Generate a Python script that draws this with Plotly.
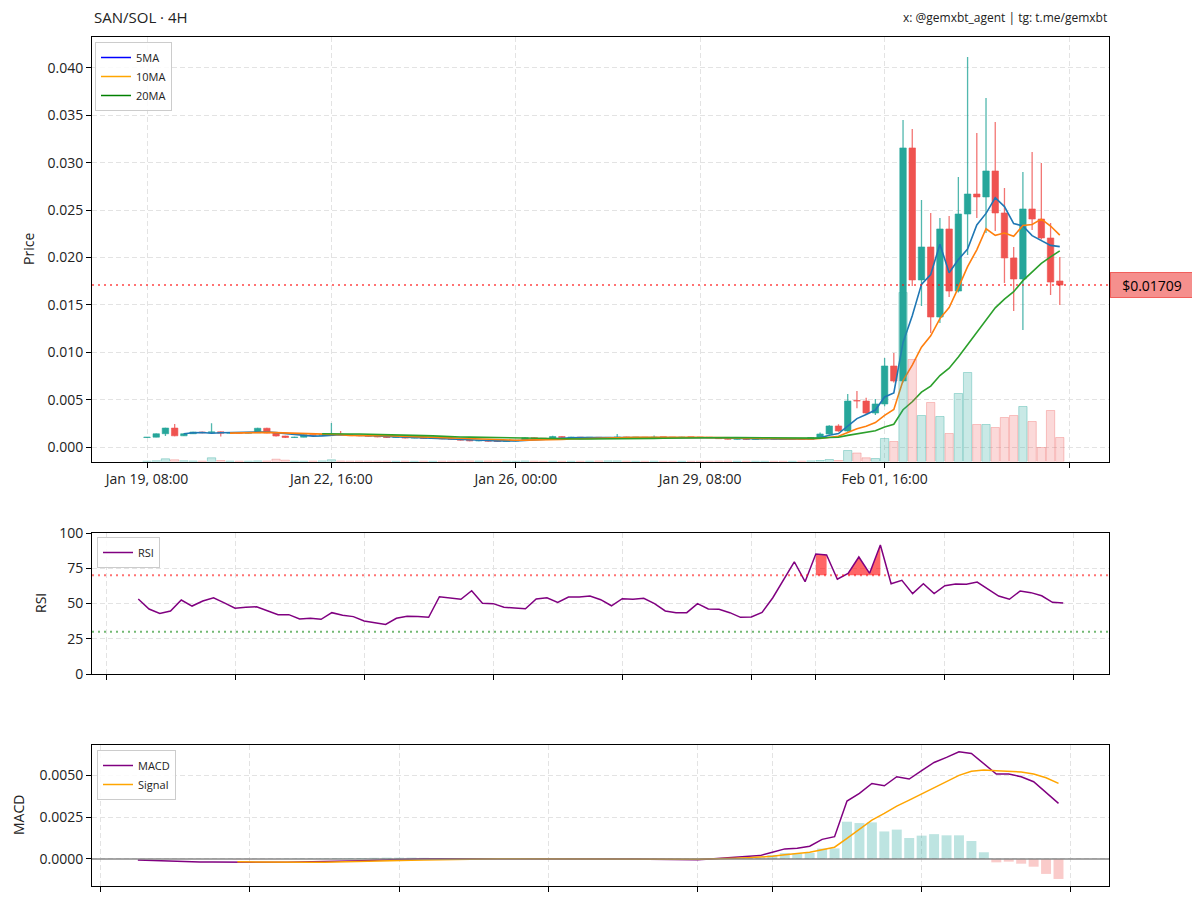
import numpy as np
import pandas as pd
import plotly.graph_objects as go

# ---------------- data ----------------
dates = pd.date_range("2025-01-19 08:00", periods=100, freq="4h")

opens = [0.00100, 0.00104, 0.00140, 0.00200, 0.00118, 0.00140, 0.00158, 0.00150, 0.00160, 0.00146,
         0.00152, 0.00146, 0.00150, 0.00198, 0.00148, 0.00116, 0.00100, 0.00104, 0.00128, 0.00124,
         0.00130, 0.00134, 0.00128, 0.00120, 0.00118, 0.00114, 0.00106, 0.00100, 0.00104, 0.00094,
         0.00098, 0.00090, 0.00092, 0.00086, 0.00082, 0.00072, 0.00064, 0.00068, 0.00060, 0.00058,
         0.00064, 0.00072, 0.00098, 0.00090, 0.00088, 0.00110, 0.00100, 0.00104, 0.00098, 0.00102,
         0.00096, 0.00098, 0.00106, 0.00100, 0.00102, 0.00098, 0.00104, 0.00102, 0.00100, 0.00104,
         0.00102, 0.00100, 0.00098, 0.00088, 0.00082, 0.00086, 0.00080, 0.00084, 0.00088, 0.00082,
         0.00080, 0.00084, 0.00080, 0.00100, 0.00137, 0.00222, 0.00169, 0.00490, 0.00485, 0.00359,
         0.00454, 0.00855, 0.00697, 0.03156, 0.01763, 0.02111, 0.01372, 0.02301, 0.01646, 0.02459,
         0.02670, 0.02639, 0.02913, 0.02470, 0.01995, 0.01773, 0.02512, 0.02406, 0.02206, 0.01752]

highs = [0.00106, 0.00142, 0.00204, 0.00243, 0.00144, 0.00162, 0.00162, 0.00250, 0.00164, 0.00156,
         0.00155, 0.00154, 0.00202, 0.00202, 0.00150, 0.00118, 0.00108, 0.00132, 0.00130, 0.00134,
         0.00252, 0.00170, 0.00130, 0.00124, 0.00122, 0.00116, 0.00108, 0.00108, 0.00106, 0.00102,
         0.00100, 0.00096, 0.00094, 0.00088, 0.00084, 0.00074, 0.00072, 0.00070, 0.00064, 0.00068,
         0.00076, 0.00104, 0.00100, 0.00094, 0.00118, 0.00114, 0.00108, 0.00106, 0.00106, 0.00104,
         0.00102, 0.00136, 0.00108, 0.00106, 0.00104, 0.00122, 0.00106, 0.00104, 0.00108, 0.00106,
         0.00104, 0.00102, 0.00100, 0.00090, 0.00090, 0.00088, 0.00088, 0.00092, 0.00090, 0.00086,
         0.00088, 0.00086, 0.00104, 0.00152, 0.00230, 0.00240, 0.00559, 0.00590, 0.00520, 0.00506,
         0.00939, 0.00992, 0.03451, 0.03356, 0.02607, 0.02470, 0.02417, 0.02438, 0.02850, 0.04116,
         0.03314, 0.03683, 0.03430, 0.02733, 0.02111, 0.02902, 0.03113, 0.02997, 0.02364, 0.02005]

lows = [0.00098, 0.00102, 0.00116, 0.00114, 0.00115, 0.00136, 0.00146, 0.00148, 0.00112, 0.00143,
        0.00142, 0.00144, 0.00148, 0.00144, 0.00112, 0.00096, 0.00098, 0.00102, 0.00120, 0.00122,
        0.00128, 0.00126, 0.00116, 0.00114, 0.00110, 0.00102, 0.00096, 0.00098, 0.00090, 0.00092,
        0.00086, 0.00088, 0.00082, 0.00078, 0.00068, 0.00060, 0.00062, 0.00056, 0.00054, 0.00056,
        0.00062, 0.00070, 0.00086, 0.00084, 0.00086, 0.00096, 0.00098, 0.00094, 0.00096, 0.00092,
        0.00094, 0.00096, 0.00098, 0.00098, 0.00096, 0.00096, 0.00100, 0.00098, 0.00098, 0.00100,
        0.00098, 0.00096, 0.00086, 0.00078, 0.00080, 0.00076, 0.00078, 0.00082, 0.00078, 0.00076,
        0.00078, 0.00076, 0.00078, 0.00098, 0.00132, 0.00160, 0.00160, 0.00410, 0.00340, 0.00338,
        0.00430, 0.00680, 0.00680, 0.01700, 0.01488, 0.01203, 0.01309, 0.01583, 0.01630, 0.02026,
        0.02417, 0.02259, 0.02280, 0.01731, 0.01435, 0.01235, 0.02290, 0.02190, 0.01604, 0.01499]

closes = [0.00104, 0.00140, 0.00200, 0.00118, 0.00140, 0.00158, 0.00150, 0.00160, 0.00146, 0.00152,
          0.00146, 0.00150, 0.00198, 0.00148, 0.00116, 0.00100, 0.00104, 0.00128, 0.00124, 0.00130,
          0.00134, 0.00128, 0.00120, 0.00118, 0.00114, 0.00106, 0.00100, 0.00104, 0.00094, 0.00098,
          0.00090, 0.00092, 0.00086, 0.00082, 0.00072, 0.00064, 0.00068, 0.00060, 0.00058, 0.00064,
          0.00072, 0.00098, 0.00090, 0.00088, 0.00110, 0.00100, 0.00104, 0.00098, 0.00102, 0.00096,
          0.00098, 0.00106, 0.00100, 0.00102, 0.00098, 0.00104, 0.00102, 0.00100, 0.00104, 0.00102,
          0.00100, 0.00098, 0.00088, 0.00082, 0.00086, 0.00080, 0.00084, 0.00088, 0.00082, 0.00080,
          0.00084, 0.00080, 0.00100, 0.00137, 0.00222, 0.00169, 0.00485, 0.00485, 0.00359, 0.00454,
          0.00855, 0.00697, 0.03156, 0.01763, 0.02111, 0.01372, 0.02301, 0.01646, 0.02459, 0.02670,
          0.02639, 0.02913, 0.02470, 0.01995, 0.01773, 0.02512, 0.02406, 0.02206, 0.01741, 0.01709]

volumes_k = [0.3, 0.7, 2.7, 1.7, 0.7, 0.5, 0.4, 3.7, 1.0, 0.4,
             0.3, 0.3, 0.6, 0.5, 2.3, 1.3, 0.3, 0.3, 0.4, 0.6,
             1.7, 0.5, 0.3, 0.4, 0.3, 0.3, 0.3, 0.2, 0.3, 0.2,
             0.3, 0.2, 0.3, 0.3, 0.4, 0.5, 0.4, 0.4, 0.3, 0.3,
             0.2, 0.5, 0.3, 0.2, 0.3, 0.2, 0.2, 0.2, 0.3, 0.5,
             0.6, 0.6, 0.3, 0.2, 0.2, 0.3, 0.2, 0.2, 0.2, 0.2,
             0.2, 0.2, 0.3, 0.3, 0.2, 0.2, 0.2, 0.2, 0.2, 0.2,
             0.2, 0.3, 0.6, 1.0, 2.0, 1.0, 11.0, 8.5, 3.7, 3.0,
             23.0, 20.0, 169.0, 102.0, 46.0, 59.0, 45.0, 28.0, 68.0, 89.0,
             37.0, 37.0, 34.0, 44.0, 46.0, 55.0, 40.0, 14.0, 51.0, 24.0]

# RSI starts at candle 13 (Jan 21 12:00)
rsi_values = [53.2, 46.1, 43.0, 44.7, 52.5, 48.2, 51.8, 54.1, 50.4, 46.6,
              47.3, 47.7, 44.9, 42.1, 42.1, 39.0, 39.5, 38.8, 43.5, 41.6,
              40.7, 37.6, 36.4, 35.2, 39.5, 40.9, 40.7, 40.2, 54.8, 54.1,
              53.0, 59.1, 50.1, 49.9, 47.3, 46.8, 46.3, 53.2, 54.1, 50.8,
              54.6, 54.6, 55.3, 52.7, 48.4, 53.4, 53.0, 53.7, 49.9, 44.7,
              43.5, 43.5, 49.9, 46.1, 45.9, 43.5, 40.2, 40.4, 43.7, 54.1,
              67.2, 79.6, 65.5, 85.1, 84.4, 67.2, 71.4, 83.0, 71.4, 91.5,
              64.0, 66.4, 57.0, 64.0, 57.0, 62.6, 63.8, 63.6, 65.2, 60.3,
              55.3, 53.0, 58.9, 57.7, 55.5, 50.8, 50.4]

# MACD starts at candle 25 (Jan 23 12:00)
macd_values = [-0.00006, -0.00009, -0.00012, -0.00014, -0.00016, -0.00018, -0.00018, -0.00019, -0.00019, -0.00020,
               -0.00020, -0.00020, -0.00019, -0.00018, -0.00017, -0.00016, -0.00014, -0.00012, -0.00010, -0.00007,
               -0.00004, -0.00002, 0.00000, 0.00001, 0.00002, 0.00002, 0.00003, 0.00003, 0.00003, 0.00004,
               0.00004, 0.00004, 0.00004, 0.00004, 0.00003, 0.00003, 0.00003, 0.00002, 0.00002, 0.00001,
               0.00000, -0.00001, -0.00002, -0.00003, -0.00004, -0.00004, 0.00000, 0.00006, 0.00012, 0.00016,
               0.00020, 0.00040, 0.00060, 0.00064, 0.00076, 0.00117, 0.00133, 0.00345, 0.00391, 0.00450,
               0.00436, 0.00490, 0.00476, 0.00526, 0.00575, 0.00605, 0.00639, 0.00629, 0.00570, 0.00506,
               0.00506, 0.00490, 0.00460, 0.00395, 0.00331]

signal_values = [None] * 8 + [
    -0.00017, -0.00018, -0.00019, -0.00019, -0.00020, -0.00020, -0.00019, -0.00019, -0.00018, -0.00017,
    -0.00016, -0.00014, -0.00012, -0.00010, -0.00008, -0.00006, -0.00004, -0.00003, -0.00002, -0.00001,
    0.00000, 0.00001, 0.00001, 0.00002, 0.00002, 0.00003, 0.00003, 0.00003, 0.00003, 0.00003,
    0.00003, 0.00002, 0.00002, 0.00001, 0.00001, 0.00000, -0.00001, -0.00002, -0.00001, 0.00001,
    0.00004, 0.00007, 0.00010, 0.00016, 0.00025, 0.00032, 0.00040, 0.00055, 0.00070, 0.00123,
    0.00177, 0.00232, 0.00272, 0.00315, 0.00351, 0.00387, 0.00427, 0.00464, 0.00498, 0.00522,
    0.00530, 0.00526, 0.00522, 0.00518, 0.00506, 0.00484, 0.00450]

current_price = 0.01709
x_tick_idx = [0, 20, 40, 60, 80, 100]

# ---------------- derived series ----------------
idx = list(range(len(closes)))
close_s = pd.Series(closes)
ma5 = close_s.rolling(5).mean()
ma10 = close_s.rolling(10).mean()
ma20 = close_s.rolling(20).mean()
rsi_dates = dates[len(dates) - len(rsi_values):]
macd_dates = dates[len(dates) - len(macd_values):]
hist = [None if s is None else m - s for m, s in zip(macd_values, signal_values)]
up = [c >= o for o, c in zip(opens, closes)]

# ---------------- geometry (reference pixel coords; page body adds 8px offset) ----------------
W, H = 1200, 903
OFF = 8
L_REF, R_REF, T_REF, B_REF = 92, 1109, 37, 886
PW, PH = R_REF - L_REF, B_REF - T_REF
ML, MT = L_REF - OFF, T_REF - OFF
MR, MB = W - ML - PW, H - MT - PH


def fy(py):
    return (B_REF - py) / PH


def fx(px):
    return (px - L_REF) / PW


GREEN, RED = "#26a69a", "#ef5350"
FONT = "Open Sans"

fig = go.Figure()

# wicks
fig.add_trace(go.Bar(
    x=idx, base=lows, y=[h - l for h, l in zip(highs, lows)], width=0.14,
    marker=dict(color=["rgba(38,166,154,0.8)" if u else "rgba(239,83,80,0.8)" for u in up], line=dict(width=0)),
    showlegend=False, hoverinfo="skip", xaxis="x", yaxis="y"))
# bodies
fig.add_trace(go.Bar(
    x=idx, base=[min(o, c) for o, c in zip(opens, closes)],
    y=[max(abs(c - o), 0.00005) for o, c in zip(opens, closes)], width=0.7,
    marker=dict(color=[GREEN if u else RED for u in up], line=dict(width=0.6, color=[GREEN if u else RED for u in up])),
    showlegend=False, hoverinfo="skip", xaxis="x", yaxis="y"))

for ma, col in [(ma5, "#1f77b4"), (ma10, "#ff7f0e"), (ma20, "#2ca02c")]:
    fig.add_trace(go.Scatter(x=idx, y=ma, mode="lines", line=dict(color=col, width=1.6),
                             showlegend=False, hoverinfo="skip", xaxis="x", yaxis="y"))
for name, col in [("5MA", "blue"), ("10MA", "orange"), ("20MA", "green")]:
    fig.add_trace(go.Scatter(x=[None], y=[None], mode="lines", name=name, line=dict(color=col, width=1.5),
                             xaxis="x", yaxis="y", legend="legend"))

# volume (twin axis, drawn on top)
fig.add_trace(go.Bar(
    x=idx, y=volumes_k, width=0.9,
    marker=dict(color=["rgba(38,166,154,0.25)" if u else "rgba(239,83,80,0.22)" for u in up],
                line=dict(width=1, color=["rgba(38,166,154,0.35)" if u else "rgba(239,83,80,0.3)" for u in up])),
    showlegend=False, hoverinfo="skip", xaxis="x", yaxis="y2"))

# RSI overbought fill (matplotlib where= style: consecutive points only)
run = []
runs = []
for j, v in enumerate(rsi_values):
    if v > 70:
        run.append(j)
    else:
        if len(run) > 1:
            runs.append(run)
        run = []
if len(run) > 1:
    runs.append(run)
for r in runs:
    xs = [rsi_dates[j] for j in r]
    ys = [rsi_values[j] for j in r]
    fig.add_trace(go.Scatter(x=xs + xs[::-1], y=ys + [70] * len(xs), fill="toself",
                             fillcolor="rgba(255,0,0,0.6)", line=dict(width=0), mode="lines",
                             showlegend=False, hoverinfo="skip", xaxis="x2", yaxis="y3"))
fig.add_trace(go.Scatter(x=rsi_dates, y=rsi_values, mode="lines", name="RSI",
                         line=dict(color="#800080", width=1.5), xaxis="x2", yaxis="y3", legend="legend2"))

# MACD
fig.add_trace(go.Bar(
    x=macd_dates, y=hist, width=4 * 3600 * 1000 * 0.8,
    marker=dict(color=["rgba(38,166,154,0.3)" if (h is not None and h >= 0) else "rgba(239,83,80,0.3)" for h in hist],
                line=dict(width=0)),
    showlegend=False, hoverinfo="skip", xaxis="x3", yaxis="y4"))
fig.add_trace(go.Scatter(x=macd_dates, y=macd_values, mode="lines", name="MACD",
                         line=dict(color="#800080", width=1.5), xaxis="x3", yaxis="y4", legend="legend3"))
fig.add_trace(go.Scatter(x=macd_dates, y=signal_values, mode="lines", name="Signal",
                         line=dict(color="#FFA500", width=1.5), xaxis="x3", yaxis="y4", legend="legend3"))

# ---------------- axes ----------------
grid = dict(showgrid=True, gridcolor="#e3e3e3", griddash="5px,3px", gridwidth=1)
frame = dict(showline=True, linecolor="black", linewidth=1, mirror=True, ticks="outside",
             ticklen=5, tickwidth=1, tickcolor="black", zeroline=False,
             tickfont=dict(family=FONT, size=14, color="#222"))

rsi_t0 = pd.Timestamp("2025-01-21 00:00")
rsi_ppd = 64.53
macd_t0 = pd.Timestamp("2025-01-23 00:00")
macd_ppd = 74.65
px0, ppc = 147.0, 9.22

tick_text = [dates[i].strftime("%b %d, %H:%M") if i < len(dates) else "" for i in x_tick_idx]
legend_style = dict(xanchor="left", yanchor="top", bgcolor="rgba(255,255,255,0.85)",
                    bordercolor="#cccccc", borderwidth=1, font=dict(family=FONT, size=11, color="#222"),
                    itemwidth=30)

fig.update_layout(
    width=W, height=H, margin=dict(l=ML, r=MR, t=MT, b=MB),
    paper_bgcolor="white", plot_bgcolor="white", barmode="overlay",
    font=dict(family=FONT, size=13, color="#222"),
    xaxis=dict(domain=[0, 1], anchor="y", range=[(L_REF - px0) / ppc, (R_REF - px0) / ppc],
               tickmode="array", tickvals=x_tick_idx, ticktext=tick_text, **grid, **frame),
    yaxis=dict(domain=[fy(461.5), 1], anchor="x", range=[-0.00153, 0.04327],
               tickmode="array", tickvals=[0, 0.005, 0.01, 0.015, 0.02, 0.025, 0.03, 0.035, 0.04],
               tickformat=".3f", **grid, **frame),
    yaxis2=dict(overlaying="y", anchor="x", range=[0, max(volumes_k) * 424.5 / 169], visible=False),
    xaxis2=dict(domain=[0, 1], anchor="y3", type="date",
                range=[rsi_t0 + pd.Timedelta(days=(L_REF - 106) / rsi_ppd),
                       rsi_t0 + pd.Timedelta(days=(R_REF - 106) / rsi_ppd)],
                tickmode="array",
                tickvals=pd.to_datetime(["2025-01-21", "2025-01-23", "2025-01-25", "2025-01-27", "2025-01-29",
                                         "2025-01-31", "2025-02-01", "2025-02-03", "2025-02-05"]),
                showticklabels=False, **grid, **frame),
    yaxis3=dict(domain=[fy(674), fy(533)], anchor="x2", range=[0, 100], tickmode="array",
                tickvals=[0, 25, 50, 75, 100], **grid, **frame),
    xaxis3=dict(domain=[0, 1], anchor="y4", type="date",
                range=[macd_t0 + pd.Timedelta(days=(L_REF - 100.5) / macd_ppd),
                       macd_t0 + pd.Timedelta(days=(R_REF - 100.5) / macd_ppd)],
                tickmode="array",
                tickvals=pd.to_datetime(["2025-01-23", "2025-01-25", "2025-01-27", "2025-01-29",
                                         "2025-01-31", "2025-02-01", "2025-02-03", "2025-02-05"]),
                showticklabels=False, **grid, **frame),
    yaxis4=dict(domain=[0, fy(745)], anchor="x3", range=[-0.00161, 0.00679], tickmode="array",
                tickvals=[0, 0.0025, 0.005], tickformat=".4f", **grid, **frame),
    legend=dict(x=fx(95), y=fy(42), **legend_style),
    legend2=dict(x=fx(97), y=fy(537), **legend_style),
    legend3=dict(x=fx(97), y=fy(750), **legend_style),
)

# reference lines
fig.add_shape(type="line", xref="x domain", yref="y", x0=0, x1=1, y0=current_price, y1=current_price,
              line=dict(color="rgba(255,0,0,0.55)", width=2, dash="2px,4px"))
fig.add_shape(type="line", xref="x2 domain", yref="y3", x0=0, x1=1, y0=70, y1=70,
              line=dict(color="rgba(255,0,0,0.55)", width=2, dash="2px,4px"))
fig.add_shape(type="line", xref="x2 domain", yref="y3", x0=0, x1=1, y0=30, y1=30,
              line=dict(color="rgba(0,128,0,0.55)", width=2, dash="2px,4px"))
fig.add_shape(type="line", xref="x3 domain", yref="y4", x0=0, x1=1, y0=0, y1=0,
              line=dict(color="rgba(128,128,128,0.7)", width=2))

# texts
fig.add_annotation(xref="paper", yref="y", x=fx(1110), y=current_price, xanchor="left", yanchor="middle",
                   text=f"${current_price:.5f}", showarrow=False, width=80, height=22, borderpad=1,
                   font=dict(family=FONT, size=14, color="black"),
                   bgcolor="rgba(239,83,80,0.65)", bordercolor="rgba(239,83,80,0.9)", borderwidth=1)
fig.add_annotation(xref="paper", yref="paper", x=0, y=fy(17), xanchor="left", yanchor="middle",
                   text="SAN/SOL · 4H", showarrow=False, font=dict(family=FONT, size=15, color="#222"))
fig.add_annotation(xref="paper", yref="paper", x=1, y=fy(17), xanchor="right", yanchor="middle",
                   text="x: @gemxbt_agent | tg: t.me/gemxbt", showarrow=False,
                   font=dict(family=FONT, size=12, color="#222"))
for txt, px_, py_ in [("Price", 28, 249), ("RSI", 40, 603), ("MACD", 18, 815)]:
    fig.add_annotation(xref="paper", yref="paper", x=fx(px_), y=fy(py_), xanchor="center", yanchor="middle",
                       text=txt, textangle=-90, showarrow=False, font=dict(family=FONT, size=14, color="#222"))

fig.write_html("out.html")
